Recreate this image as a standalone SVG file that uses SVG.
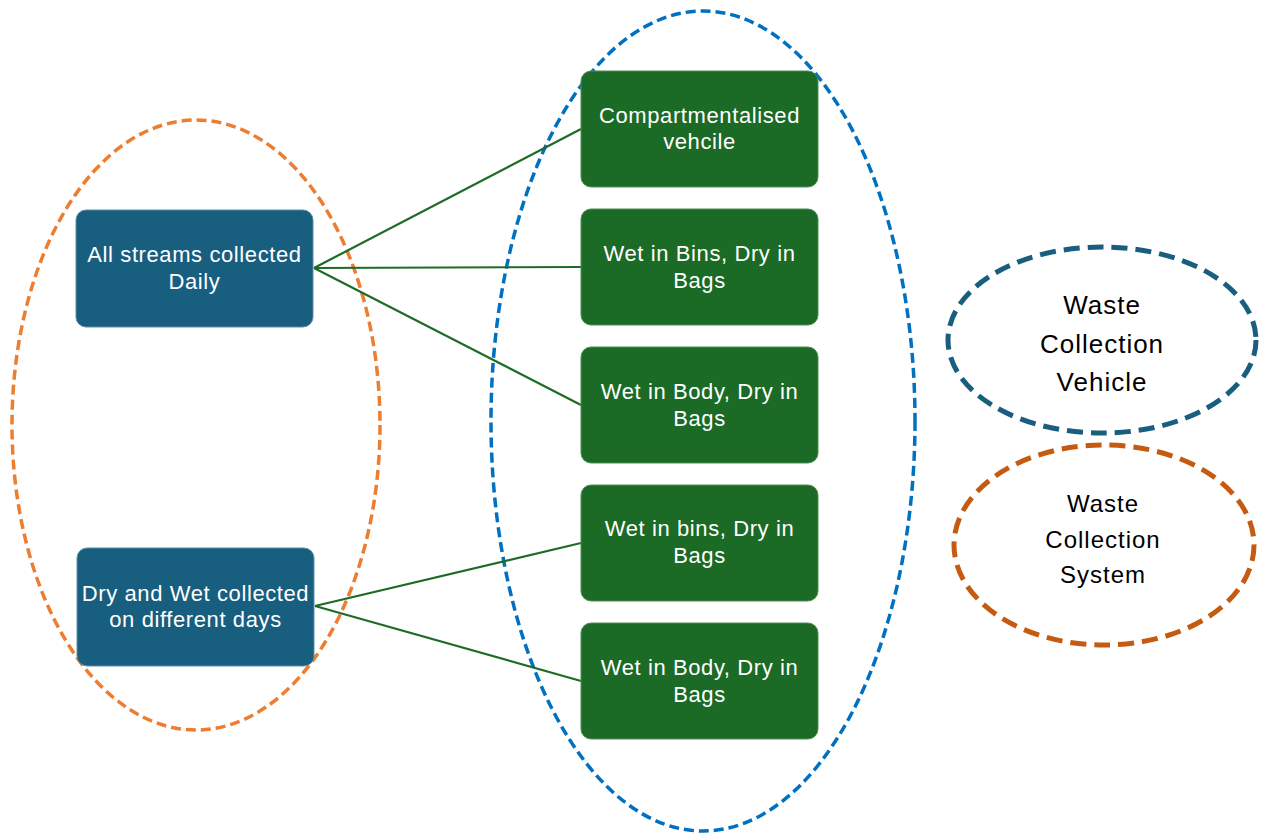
<svg xmlns="http://www.w3.org/2000/svg" width="1264" height="834" viewBox="0 0 1264 834">
<style>
.bg{fill:#ffffff}
.blue{fill:#175E7F;stroke:#5B8FA8;stroke-width:1}
.green{fill:#1B6A25;stroke:#4F8F57;stroke-width:1}
.t{font-family:"Liberation Sans",Arial,sans-serif;font-size:22px;letter-spacing:0.6px;fill:#ffffff;text-anchor:middle}
.k{font-family:"Liberation Sans",Arial,sans-serif;letter-spacing:1px;fill:#000000;text-anchor:middle}
.conn line{stroke:#1D6B25;stroke-width:2.2}
</style>
<rect class="bg" x="0" y="0" width="1264" height="834"/>
<g id="system-ellipse">
<ellipse cx="196" cy="425" rx="184" ry="305" fill="none" stroke="#ED7D31" stroke-width="3.5" stroke-dasharray="10 5"/>
</g>
<g id="vehicle-ellipse">
<ellipse cx="703" cy="421" rx="212" ry="410" fill="none" stroke="#0070C0" stroke-width="3.5" stroke-dasharray="10 5"/>
</g>
<g id="connectors" class="conn">
<line x1="314" y1="268" x2="581" y2="129"/>
<line x1="314" y1="268" x2="581" y2="267"/>
<line x1="314" y1="268" x2="581" y2="405"/>
<line x1="315" y1="606" x2="581" y2="543"/>
<line x1="315" y1="606" x2="581" y2="681"/>
</g>
<g id="n-daily">
<rect class="blue" x="76" y="210" width="237" height="117" rx="10"/>
<text class="t" x="194.5" y="262">All streams collected</text>
<text class="t" x="194.5" y="289">Daily</text>
</g>
<g id="n-diffdays">
<rect class="blue" x="77" y="548" width="237" height="118" rx="10"/>
<text class="t" x="195.5" y="601">Dry and Wet collected</text>
<text class="t" x="195.5" y="627">on different days</text>
</g>
<g id="n-compart">
<rect class="green" x="581" y="71" width="237" height="116" rx="10"/>
<text class="t" x="699.5" y="123">Compartmentalised</text>
<text class="t" x="699.5" y="149">vehcile</text>
</g>
<g id="n-binsbags1">
<rect class="green" x="581" y="209" width="237" height="116" rx="10"/>
<text class="t" x="699.5" y="261">Wet in Bins, Dry in</text>
<text class="t" x="699.5" y="288">Bags</text>
</g>
<g id="n-bodybags1">
<rect class="green" x="581" y="347" width="237" height="116" rx="10"/>
<text class="t" x="699.5" y="399">Wet in Body, Dry in</text>
<text class="t" x="699.5" y="426">Bags</text>
</g>
<g id="n-binsbags2">
<rect class="green" x="581" y="485" width="237" height="116" rx="10"/>
<text class="t" x="699.5" y="536">Wet in bins, Dry in</text>
<text class="t" x="699.5" y="563">Bags</text>
</g>
<g id="n-bodybags2">
<rect class="green" x="581" y="623" width="237" height="116" rx="10"/>
<text class="t" x="699.5" y="675">Wet in Body, Dry in</text>
<text class="t" x="699.5" y="702">Bags</text>
</g>
<g id="legend-vehicle">
<ellipse cx="1102" cy="340" rx="154" ry="93" fill="none" stroke="#175E7F" stroke-width="5" stroke-dasharray="16 8"/>
<text class="k" x="1102" y="314" font-size="26">Waste</text>
<text class="k" x="1102" y="353" font-size="26">Collection</text>
<text class="k" x="1102" y="391" font-size="26">Vehicle</text>
</g>
<g id="legend-system">
<ellipse cx="1104" cy="545" rx="150" ry="100" fill="none" stroke="#C55A11" stroke-width="5" stroke-dasharray="16 8"/>
<text class="k" x="1103" y="512" font-size="24">Waste</text>
<text class="k" x="1103" y="548" font-size="24">Collection</text>
<text class="k" x="1103" y="583" font-size="24">System</text>
</g>
</svg>
